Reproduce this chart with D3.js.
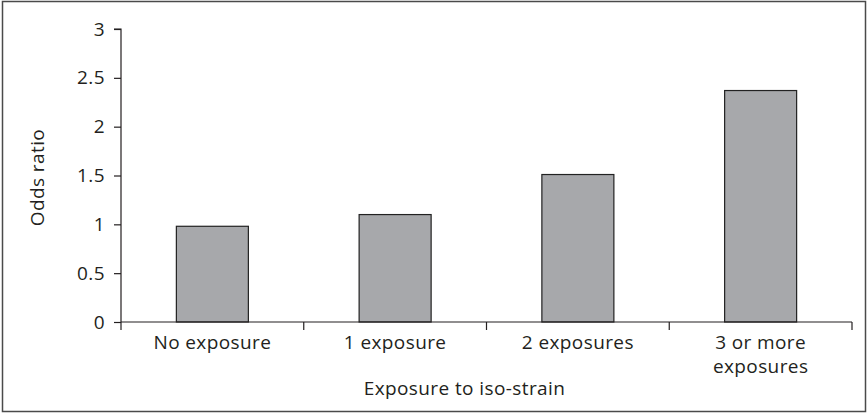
<!DOCTYPE html>
<html><head><meta charset="utf-8">
<script src="https://cdn.jsdelivr.net/npm/d3@7"></script>
<style>html,body{margin:0;padding:0;background:#fff;}svg{display:block;}</style>
</head><body>
<script>
const categories = [["No exposure"], ["1 exposure"], ["2 exposures"], ["3 or more", "exposures"]];
const oddsRatios = [0.98, 1.10, 1.51, 2.37];
const yTicks = [0, 0.5, 1, 1.5, 2, 2.5, 3];
const yTickLabels = ["0", "0.5", "1", "1.5", "2", "2.5", "3"];

const W = 868, H = 414;
const m = {left: 121, right: 16, top: 29, bottom: 92};
const font = "'Open Sans', 'Noto Sans', sans-serif";
const fs = 19, ls = "0.4px";
const ink = "#231f20";

const svg = d3.select("body").append("svg").attr("width", W).attr("height", H);
svg.append("rect").attr("x", 2.5).attr("y", 1.5).attr("width", 863).attr("height", 410)
  .attr("fill", "#fff").attr("stroke", "#4a4a4a").attr("stroke-width", 1.5);

const x = d3.scaleBand().domain(d3.range(categories.length))
  .range([m.left, W - m.right]).paddingInner(0.606).paddingOuter(0.303);
const y = d3.scaleLinear().domain([0, 3]).range([H - m.bottom, m.top]);

// bars
svg.append("g").selectAll("rect").data(oddsRatios).join("rect")
  .attr("x", (d, i) => x(i)).attr("width", x.bandwidth())
  .attr("y", d => y(d)).attr("height", d => y(0) - y(d))
  .attr("fill", "#a7a8ab").attr("stroke", "#222").attr("stroke-width", 1.2);

// y axis
const yAxis = svg.append("g").attr("transform", `translate(${m.left},0)`)
  .call(d3.axisLeft(y).tickValues(yTicks).tickFormat((d, i) => yTickLabels[i]).tickSize(7).tickPadding(9));
yAxis.select(".domain").attr("stroke", ink).attr("stroke-width", 1.2).attr("d", `M-7,${y(3)}H0V${y(0)}`);
yAxis.selectAll(".tick line").attr("stroke", ink).attr("stroke-width", 1.2);
yAxis.selectAll("text").attr("font-family", font).attr("font-size", fs).attr("letter-spacing", ls).attr("fill", ink);

// x axis
const xg = svg.append("g").attr("transform", `translate(0,${y(0)})`);
xg.append("line").attr("x1", m.left).attr("x2", W - m.right).attr("y1", 0).attr("y2", 0)
  .attr("stroke", ink).attr("stroke-width", 1.2);
const bounds = d3.range(categories.length + 1).map(i => m.left + i * x.step());
xg.selectAll("line.tk").data(bounds).join("line").attr("class", "tk")
  .attr("x1", d => d).attr("x2", d => d).attr("y1", 0).attr("y2", 8)
  .attr("stroke", ink).attr("stroke-width", 1.2);
xg.selectAll("text.cat").data(categories).join("text").attr("class", "cat")
  .attr("x", (d, i) => x(i) + x.bandwidth() / 2).attr("y", 27)
  .attr("text-anchor", "middle").attr("font-family", font).attr("font-size", fs)
  .attr("letter-spacing", ls).attr("fill", ink)
  .each(function(d) {
    d3.select(this).selectAll("tspan").data(d).join("tspan")
      .attr("x", d3.select(this).attr("x")).attr("dy", (t, j) => j === 0 ? 0 : 24).text(t => t);
  });

// axis titles
svg.append("text").attr("x", (m.left + W - m.right) / 2 - 22).attr("y", 395)
  .attr("text-anchor", "middle").attr("font-family", font).attr("font-size", fs)
  .attr("letter-spacing", ls).attr("fill", ink)
  .text("Exposure to iso-strain");
svg.append("text").attr("transform", `translate(44,${y(1.5) + 2}) rotate(-90)`)
  .attr("text-anchor", "middle").attr("font-family", font).attr("font-size", fs)
  .attr("letter-spacing", ls).attr("fill", ink)
  .text("Odds ratio");
</script>
</body></html>
